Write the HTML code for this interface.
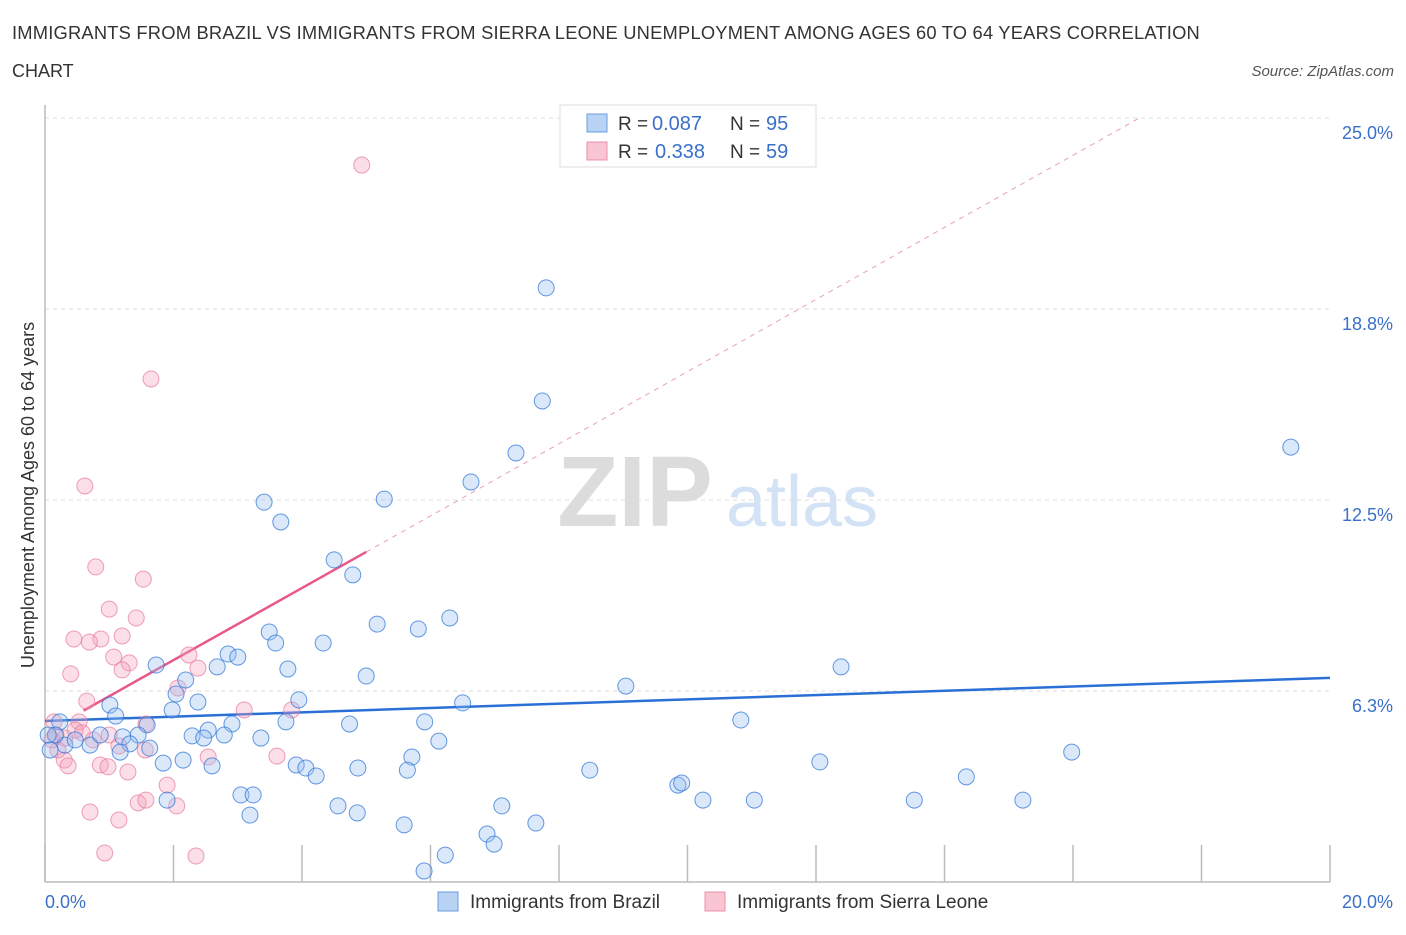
<!DOCTYPE html>
<html><head><meta charset="utf-8"><style>
body{margin:0;background:#fff;font-family:"Liberation Sans",sans-serif;}
svg text{font-family:"Liberation Sans",sans-serif;}
</style></head><body>
<svg id="chart" width="1406" height="930">
<text x="12" y="39" font-size="18" letter-spacing="0.2" textLength="1188" lengthAdjust="spacingAndGlyphs" fill="#333">IMMIGRANTS FROM BRAZIL VS IMMIGRANTS FROM SIERRA LEONE UNEMPLOYMENT AMONG AGES 60 TO 64 YEARS CORRELATION</text>
<text x="12" y="77" font-size="18" fill="#333">CHART</text>
<text x="1394" y="76" font-size="15" fill="#555" font-style="italic" text-anchor="end">Source: ZipAtlas.com</text>
<text x="635" y="526" font-size="100" fill="#dcdcdc" font-weight="bold" font-family="Liberation Serif" text-anchor="middle">ZIP</text>
<text x="802" y="526" font-size="72" fill="#d3e2f4" text-anchor="middle">atlas</text>
<g id="grid"></g><g id="axes"></g><g id="trend"></g><g id="pts"></g>
<text transform="translate(34,495) rotate(-90)" font-size="18" fill="#333" text-anchor="middle">Unemployment Among Ages 60 to 64 years</text>
<text x="45" y="908" font-size="18" fill="#3a70c8">0.0%</text>
<text x="1393" y="908" font-size="18" fill="#3a70c8" text-anchor="end">20.0%</text>
<g>
<rect x="560" y="105" width="256" height="62" fill="#fff" stroke="#ddd"/>
<rect x="587" y="114" width="20" height="18" fill="#b8d3f4" stroke="#6a9de0"/>
<rect x="587" y="142" width="20" height="18" fill="#f9c5d3" stroke="#e890aa"/>
<text x="618" y="130" font-size="19" fill="#333">R =</text>
<text x="652" y="130" font-size="20" fill="#3a70c8">0.087</text>
<text x="730" y="130" font-size="19" fill="#333">N =</text>
<text x="766" y="130" font-size="20" fill="#3a70c8">95</text>
<text x="618" y="158" font-size="19" fill="#333">R =</text>
<text x="655" y="158" font-size="20" fill="#3a70c8">0.338</text>
<text x="730" y="158" font-size="19" fill="#333">N =</text>
<text x="766" y="158" font-size="20" fill="#3a70c8">59</text>
</g>
<g>
<rect x="438" y="892" width="20" height="19" fill="#b8d3f4" stroke="#6a9de0"/>
<text x="470" y="908" font-size="19" fill="#333">Immigrants from Brazil</text>
<rect x="705" y="892" width="20" height="19" fill="#f9c5d3" stroke="#e890aa"/>
<text x="737" y="908" font-size="19" fill="#333">Immigrants from Sierra Leone</text>
</g>
</svg>
<script>
const yTicks=[6.25,12.5,18.75,25];
const yTickLabels=["6.3%","12.5%","18.8%","25.0%"];
const xTicks=[0,2,4,6,8,10,12,14,16,18,20];
const brazilX=[7.80,7.74,7.33,19.39,6.63,5.28,3.41,3.67,4.50,4.79,5.17,5.81,6.30,3.49,3.59,4.33,2.85,3.00,2.68,3.78,1.73,12.39,5.00,2.19,9.04,2.04,3.95,2.38,6.50,1.01,1.98,1.10,1.59,3.75,4.74,5.91,10.83,2.54,2.91,2.29,2.47,2.79,3.36,1.45,1.21,1.32,1.63,1.17,6.13,0.70,0.31,0.47,0.23,0.16,0.86,15.98,1.84,2.15,2.60,3.91,4.06,4.22,4.87,5.71,5.64,8.48,12.06,14.34,9.85,9.91,3.05,3.24,1.90,10.24,11.04,13.53,15.22,4.56,7.11,4.86,3.19,5.59,7.64,6.88,6.99,6.23,5.90,0.08,0.05];
const brazilY=[19.44,15.74,14.04,14.23,13.09,12.53,12.43,11.78,10.54,10.05,8.44,8.28,8.64,8.18,7.82,7.82,7.46,7.36,7.04,6.97,7.10,7.04,6.74,6.61,6.41,6.15,5.96,5.89,5.86,5.79,5.63,5.43,5.14,5.24,5.17,5.24,5.30,4.97,5.17,4.78,4.71,4.81,4.71,4.81,4.75,4.52,4.38,4.25,4.61,4.48,4.48,4.65,5.24,4.81,4.81,4.25,3.89,3.99,3.80,3.83,3.73,3.47,3.73,4.09,3.66,3.66,3.93,3.44,3.17,3.24,2.85,2.85,2.68,2.68,2.68,2.68,2.68,2.49,2.49,2.26,2.19,1.87,1.93,1.57,1.24,0.88,0.36,4.32,4.81];
const leoneX=[4.93,1.65,0.62,0.79,1.53,1.00,1.42,0.45,0.87,0.69,1.20,1.07,1.31,1.20,2.24,2.38,0.40,2.07,3.10,3.84,0.65,0.53,1.57,0.14,0.17,0.31,0.75,1.00,1.56,1.15,0.20,0.30,0.36,0.86,0.98,1.29,2.54,3.61,1.90,0.70,1.15,1.45,1.57,2.05,0.93,2.35,0.11,0.47,0.58];
const leoneY=[23.46,16.46,12.96,10.31,9.91,8.93,8.64,7.95,7.95,7.85,8.05,7.36,7.17,6.94,7.43,7.00,6.81,6.35,5.63,5.63,5.92,5.24,5.17,5.24,4.81,4.71,4.65,4.81,4.32,4.45,4.32,3.99,3.80,3.83,3.77,3.60,4.09,4.12,3.17,2.29,2.03,2.59,2.68,2.49,0.95,0.85,4.65,4.97,4.88];
const brazilTrend=[5.27,6.68];
const leoneTrend=[4.9,1.18];
const X=v=>45+v*64.25, Y=v=>882-v*30.56;
const NS="http://www.w3.org/2000/svg";
function mk(p,t,a){const e=document.createElementNS(NS,t);for(const k in a)e.setAttribute(k,a[k]);p.appendChild(e);return e;}
const grid=document.getElementById('grid'),axes=document.getElementById('axes'),trend=document.getElementById('trend'),pts=document.getElementById('pts');
yTicks.forEach((v,i)=>{
 const l=mk(grid,'line',{x1:45,x2:1330,y1:Y(v),y2:Y(v),stroke:'#ddd','stroke-dasharray':'4,4'});
 
 
 const t=mk(grid,'text',{x:1393,y:Y(v)+21,'font-size':18,fill:'#3a70c8','text-anchor':'end'});t.textContent=yTickLabels[i];
 
 
});
mk(axes,'line',{x1:45,x2:45,y1:105,y2:882,stroke:'#bbb','stroke-width':1.5});
mk(axes,'line',{x1:45,x2:1330,y1:882,y2:882,stroke:'#bbb','stroke-width':1.5});
xTicks.forEach(v=>{
 const l=mk(axes,'line',{x1:X(v),x2:X(v),y1:845,y2:882,stroke:'#bbb','stroke-width':1.5});
 
 
});
let b=mk(trend,'line',{x1:X(0),y1:Y(brazilTrend[0]),x2:X(20),y2:Y(brazilTrend[1]),stroke:'#2a6fd6','stroke-width':2.5});


const xe=(25-leoneTrend[0])/leoneTrend[1];
let d=mk(trend,'line',{x1:X(5.0),y1:Y(leoneTrend[0]+5.0*leoneTrend[1]),x2:X(xe),y2:Y(25),stroke:'#e8a0b8','stroke-width':1,'stroke-dasharray':'5,5'});


let s=mk(trend,'line',{x1:X(0.6),y1:Y(leoneTrend[0]+0.6*leoneTrend[1]),x2:X(5.0),y2:Y(leoneTrend[0]+5.0*leoneTrend[1]),stroke:'#e8588a','stroke-width':2.5});


leoneX.forEach((v,i)=>{
 const c=mk(pts,'circle',{cx:X(v),cy:Y(leoneY[i]),r:8,fill:'rgba(244,160,185,0.35)',stroke:'rgba(232,120,155,0.7)','stroke-width':1});
 
 
});
brazilX.forEach((v,i)=>{
 const c=mk(pts,'circle',{cx:X(v),cy:Y(brazilY[i]),r:8,fill:'rgba(150,190,240,0.35)',stroke:'rgba(50,120,215,0.75)','stroke-width':1});
 
 
});
</script>
</body></html>
